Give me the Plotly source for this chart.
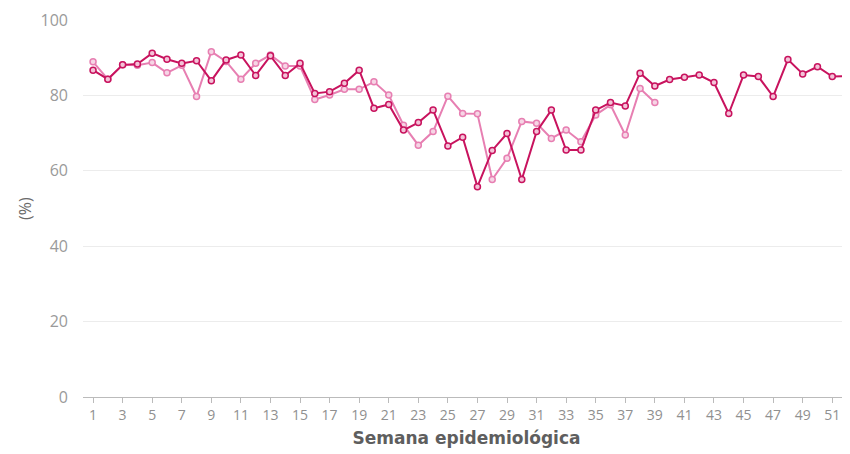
import plotly.graph_objects as go

weeks = list(range(1, 53))
serie_a = [86.7, 84.3, 88.1, 88.3, 91.2, 89.6, 88.5, 89.2, 83.9, 89.4,
           90.7, 85.3, 90.5, 85.3, 88.5, 80.5, 81.0, 83.2, 86.7, 76.6,
           77.6, 70.8, 72.8, 76.1, 66.6, 68.9, 55.8, 65.4, 69.9, 57.7,
           70.4, 76.1, 65.5, 65.5, 76.1, 78.1, 77.2, 85.9, 82.5, 84.2,
           84.8, 85.4, 83.4, 75.2, 85.4, 85.0, 79.7, 89.5, 85.7, 87.6,
           85.0, 85.1]
weeks_b = list(range(1, 40))
serie_b = [88.9, 84.3, 88.1, 88.0, 88.7, 86.0, 88.0, 79.7, 91.6, 89.0,
           84.3, 88.5, 90.7, 87.8, 87.8, 78.9, 80.1, 81.6, 81.6, 83.6,
           80.1, 72.1, 66.8, 70.4, 79.8, 75.2, 75.1, 57.7, 63.3, 73.1,
           72.6, 68.6, 70.8, 67.7, 74.8, 77.5, 69.5, 81.8, 78.1]
tick_vals = list(range(1, 53, 2))
y_ticks = [0, 20, 40, 60, 80, 100]

dark = "#c8135e"
light = "#e77fb2"

fig = go.Figure()
fig.add_trace(go.Scatter(
    x=weeks_b, y=serie_b, mode="lines+markers",
    line=dict(color=light, width=2),
    marker=dict(symbol="circle", size=6, color="#f6d5e5",
                line=dict(color=light, width=1.5)),
    showlegend=False, cliponaxis=False))
fig.add_trace(go.Scatter(
    x=weeks, y=serie_a, mode="lines+markers",
    line=dict(color=dark, width=2),
    marker=dict(symbol="circle", size=6, color="#f3c3d8",
                line=dict(color=dark, width=1.5)),
    showlegend=False, cliponaxis=False))

fig.update_layout(
    width=842, height=446,
    margin=dict(l=75, r=0, t=12, b=57, autoexpand=False),
    paper_bgcolor="white", plot_bgcolor="white",
    font=dict(family="Open Sans", color="#999999", size=12),
    xaxis=dict(
        range=[0.32, 52.2], tickmode="array", tickvals=tick_vals,
        ticktext=[str(v) for v in tick_vals],
        showgrid=False, zeroline=False, automargin=False,
        showline=True, linecolor="#bbbbbb", linewidth=1,
        ticks="outside", ticklen=5, tickcolor="#bbbbbb",
        tickfont=dict(size=14, color="#909090",
                      family="Liberation Sans Narrow, Open Sans"),
        title=dict(text="<b>Semana epidemiológica</b>",
                   font=dict(size=17, color="#5e5e5e", family="DejaVu Sans"),
                   standoff=9),
    ),
    yaxis=dict(
        range=[0, 100], tickmode="array", tickvals=y_ticks,
        showgrid=True, gridcolor="#ececec", gridwidth=1,
        zeroline=False, showline=False, automargin=False,
        tickfont=dict(size=16, color="#9a9a9a", family="Open Sans"),
        ticklabelstandoff=14,
    ),
    annotations=[dict(text="(%)", xref="paper", yref="paper",
                      x=-0.0756, y=0.499, xanchor="center", yanchor="middle",
                      textangle=-90, showarrow=False,
                      font=dict(size=16, color="#6a6a6a", family="Open Sans"))],
)

fig.write_html("out.html")
